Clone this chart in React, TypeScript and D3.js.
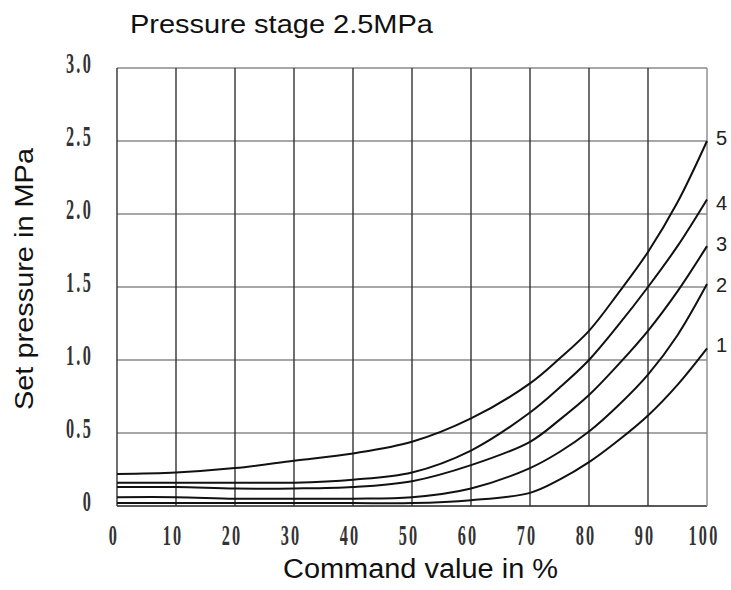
import React from "react";
import * as d3 from "d3";

const xTicks = [0, 10, 20, 30, 40, 50, 60, 70, 80, 90, 100];
const yTicks = [0, 0.5, 1.0, 1.5, 2.0, 2.5, 3.0];
const yTickLabels = ["0", "0.5", "1.0", "1.5", "2.0", "2.5", "3.0"];
const commandValues = [0, 10, 20, 30, 40, 50, 60, 70, 75, 80, 85, 90, 95, 100];
const curve1 = [0.02, 0.02, 0.02, 0.02, 0.02, 0.02, 0.04, 0.09, 0.18, 0.3, 0.45, 0.62, 0.83, 1.08];
const curve2 = [0.06, 0.06, 0.05, 0.05, 0.05, 0.06, 0.12, 0.26, 0.37, 0.51, 0.69, 0.9, 1.17, 1.52];
const curve3 = [0.13, 0.13, 0.12, 0.12, 0.13, 0.17, 0.28, 0.44, 0.59, 0.76, 0.97, 1.2, 1.47, 1.78];
const curve4 = [0.16, 0.16, 0.16, 0.16, 0.18, 0.23, 0.38, 0.64, 0.81, 1.0, 1.24, 1.5, 1.78, 2.1];
const curve5 = [0.22, 0.23, 0.26, 0.31, 0.36, 0.44, 0.6, 0.84, 1.01, 1.2, 1.46, 1.74, 2.08, 2.5];
const curveNames = ["1", "2", "3", "4", "5"];
const title = "Pressure stage 2.5MPa";
const xTitle = "Command value in %";
const yTitle = "Set pressure in MPa";

export default function App() {
  const W = 731, H = 590;
  const left = 117, right = 707, top = 68, bottom = 506;
  const x = d3.scaleLinear().domain([0, 100]).range([left, right]);
  const y = d3.scaleLinear().domain([0, 3]).range([bottom, top]);
  const series = [curve1, curve2, curve3, curve4, curve5];
  const line = d3
    .line<number>()
    .x((_, i) => x(commandValues[i]))
    .y((v) => y(v))
    .curve(d3.curveCatmullRom.alpha(0.5));
  const labelOffsets = [0, 4, 1, 7, 0];
  const tickFont = "'Liberation Serif', 'DejaVu Serif', serif";
  const sans = "'Liberation Sans', Arial, sans-serif";
  return (
    <svg
      width={W}
      height={H}
      style={{ position: "absolute", left: 0, top: 0, background: "#fff" }}
    >
      {/* horizontal grid */}
      {yTicks.map((t) => (
        <line
          key={"h" + t}
          x1={left}
          x2={right}
          y1={y(t)}
          y2={y(t)}
          stroke={t === 0 ? "#222" : "#8a8a8a"}
          strokeWidth={1.6}
        />
      ))}
      {/* vertical grid */}
      {xTicks.map((t) => (
        <line
          key={"v" + t}
          x1={x(t)}
          x2={x(t)}
          y1={top}
          y2={bottom}
          stroke={t === 100 ? "#8a8a8a" : "#333"}
          strokeWidth={1.4}
        />
      ))}
      {/* curves */}
      {series.map((s, i) => (
        <path
          key={"c" + i}
          d={line(s) || ""}
          fill="none"
          stroke="#111"
          strokeWidth={2}
        />
      ))}
      {/* curve labels */}
      {series.map((s, i) => (
        <text
          key={"l" + i}
          x={716}
          y={y(s[s.length - 1]) + 4 + labelOffsets[i]}
          fontFamily={sans}
          fontSize={20}
          fill="#222"
        >
          {curveNames[i]}
        </text>
      ))}
      {/* y tick labels */}
      {yTicks.map((t, i) => (
        <text
          key={"yt" + t}
          transform={`translate(${93},${y(t) + 5}) scale(0.56,1)`}
          textAnchor="end"
          fontFamily={tickFont}
          fontWeight="bold"
          fontSize={29}
          letterSpacing={4}
          fill="#333"
        >
          {yTickLabels[i]}
        </text>
      ))}
      {/* x tick labels */}
      {xTicks.map((t) => (
        <text
          key={"xt" + t}
          transform={`translate(${x(t) - 3},${545}) scale(0.56,1)`}
          textAnchor="middle"
          fontFamily={tickFont}
          fontWeight="bold"
          fontSize={29}
          letterSpacing={4}
          fill="#333"
        >
          {String(t)}
        </text>
      ))}
      {/* titles */}
      <text
        x={130}
        y={33}
        fontFamily={sans}
        fontSize={26}
        textLength={303}
        lengthAdjust="spacingAndGlyphs"
        fill="#111"
      >
        {title}
      </text>
      <text
        x={283}
        y={578}
        fontFamily={sans}
        fontSize={27}
        textLength={275}
        lengthAdjust="spacingAndGlyphs"
        fill="#111"
      >
        {xTitle}
      </text>
      <text
        transform={`translate(${33},${410}) rotate(-90)`}
        fontFamily={sans}
        fontSize={25}
        textLength={262}
        lengthAdjust="spacingAndGlyphs"
        fill="#111"
      >
        {yTitle}
      </text>
    </svg>
  );
}
